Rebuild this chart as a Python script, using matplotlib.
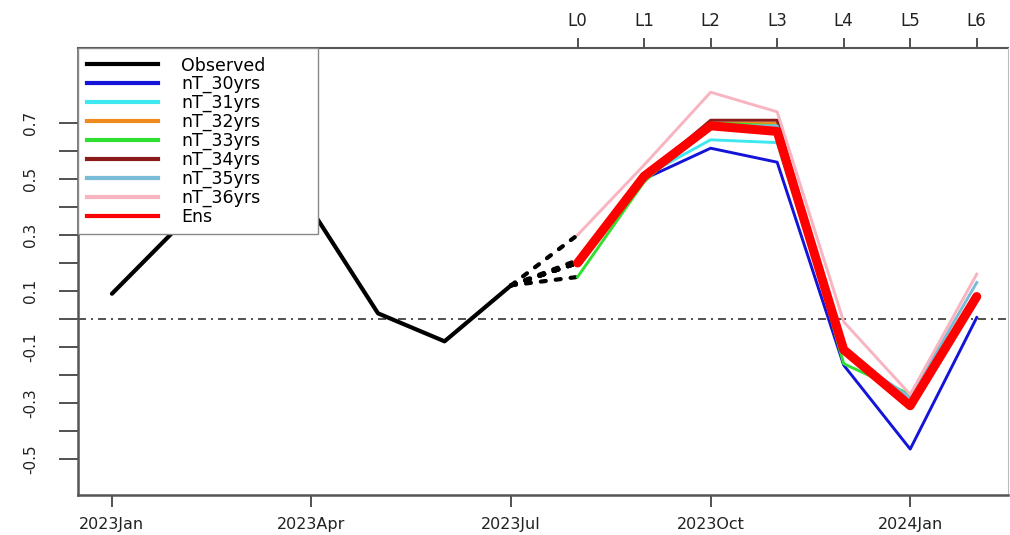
import numpy as np
import matplotlib.pyplot as plt
from matplotlib.lines import Line2D

plt.rcParams['font.family'] = ['DejaVu Sans']

# month index 0 = 2023Jan
month_labels = ['2023Jan', '2023Apr', '2023Jul', '2023Oct', '2024Jan']
month_ticks = [0, 3, 6, 9, 12]

# observed anomaly, 2023Jan .. 2023Jul
obs_x = [0, 1, 2, 3, 4, 5, 6]
observed = [0.09, 0.33, 0.42, 0.39, 0.02, -0.08, 0.12]

# forecasts at lead L0..L6 (2023Aug .. 2024Feb)
lead_x = [7, 8, 9, 10, 11, 12, 13]
lead_labels = ['L0', 'L1', 'L2', 'L3', 'L4', 'L5', 'L6']

nT_30 = [0.20, 0.50, 0.61, 0.56, -0.165, -0.465, 0.005]
nT_31 = [0.20, 0.51, 0.64, 0.63, -0.12, -0.28, 0.08]
nT_32 = [0.21, 0.51, 0.70, 0.70, -0.10, -0.30, 0.08]
nT_33 = [0.15, 0.49, 0.70, 0.69, -0.16, -0.27, 0.08]
nT_34 = [0.20, 0.51, 0.71, 0.71, -0.10, -0.30, 0.08]
nT_35 = [0.20, 0.51, 0.69, 0.69, -0.12, -0.28, 0.13]
nT_36 = [0.30, 0.55, 0.81, 0.74, -0.01, -0.27, 0.16]
ens = [0.20, 0.51, 0.69, 0.67, -0.11, -0.31, 0.08]

members = [nT_30, nT_31, nT_32, nT_33, nT_34, nT_35, nT_36]
member_names = ['nT_30yrs', 'nT_31yrs', 'nT_32yrs', 'nT_33yrs',
                'nT_34yrs', 'nT_35yrs', 'nT_36yrs']
member_cols = ['#1414d8', '#3ee8f0', '#f08a1e', '#30e030',
               '#8b1a1a', '#78bcd8', '#f8b4c0']

yticks_lab = [-0.5, -0.3, -0.1, 0.1, 0.3, 0.5, 0.7]
yticks_min = [-0.4, -0.2, 0.0, 0.2, 0.4, 0.6]

fig = plt.figure(figsize=(10.1, 5.35), dpi=100)
ax = fig.add_axes([78/1010, 1 - 495/535, (1008 - 78)/1010, (495 - 48)/535])

ax.axhline(0, color='#333333', lw=1.2, dashes=(4.8, 3, 1.2, 3), zorder=1)

ax.plot(obs_x, observed, color='black', lw=3, solid_joinstyle='round',
        solid_capstyle='round', zorder=3)

# dashed links from the last observation to each member's L0
for m in members:
    ax.plot([obs_x[-1], lead_x[0]], [observed[-1], m[0]], color='black', lw=3,
            dashes=(1.2, 2.4), dash_capstyle='round', zorder=3)

for m, c in zip(members, member_cols):
    ax.plot(lead_x, m, color=c, lw=2.1, solid_joinstyle='round', zorder=4)

ax.plot(lead_x, ens, color='#ff0000', lw=6.5, solid_joinstyle='round',
        solid_capstyle='round', zorder=5)

ax.set_xlim(-0.51, 13.47)
ax.set_ylim(-0.629, 0.968)

ax.set_xticks(month_ticks, labels=month_labels)
ax.set_yticks(yticks_lab, labels=[str(v) for v in yticks_lab])
ax.set_yticks(yticks_min, minor=True)
ax.tick_params(axis='x', length=8.6, width=1.2, pad=7, labelsize=11.5,
               color='#333333', labelcolor='#222222')
ax.tick_params(axis='y', which='both', length=13.7, width=1.2, pad=15,
               labelsize=11, color='#333333', labelcolor='#222222')
for lab in ax.get_yticklabels():
    lab.set_rotation(90)
    lab.set_va('center')

ax.spines['top'].set_visible(False)
ax.spines['right'].set_color('#bbbbbb')
ax.spines['right'].set_linewidth(0.8)
for s in ['left', 'bottom']:
    ax.spines[s].set_color('#555555')
    ax.spines[s].set_linewidth(1.8)

top = ax.secondary_xaxis('top')
top.set_xticks(lead_x, labels=lead_labels)
top.tick_params(length=7.2, width=1.2, pad=6, labelsize=12,
                color='#333333', labelcolor='#222222')
top.spines['top'].set_color('#555555')
top.spines['top'].set_linewidth(1.5)

handles = [Line2D([], [], color='black', lw=3)]
handles += [Line2D([], [], color=c, lw=3) for c in member_cols]
handles += [Line2D([], [], color='#ff0000', lw=3)]
names = ['Observed'] + member_names + ['Ens']
leg = ax.legend(handles, names, loc='upper left',
                bbox_to_anchor=(0, 0, 240/930, 1), mode='expand',
                borderaxespad=0, fontsize=12.5, handlelength=4.1,
                handletextpad=1.35, labelspacing=0.04, borderpad=0.49,
                fancybox=False, framealpha=1, edgecolor='#888888')
leg.get_frame().set_linewidth(1.0)
leg.set_zorder(10)

fig.savefig('out.png', dpi=100)
